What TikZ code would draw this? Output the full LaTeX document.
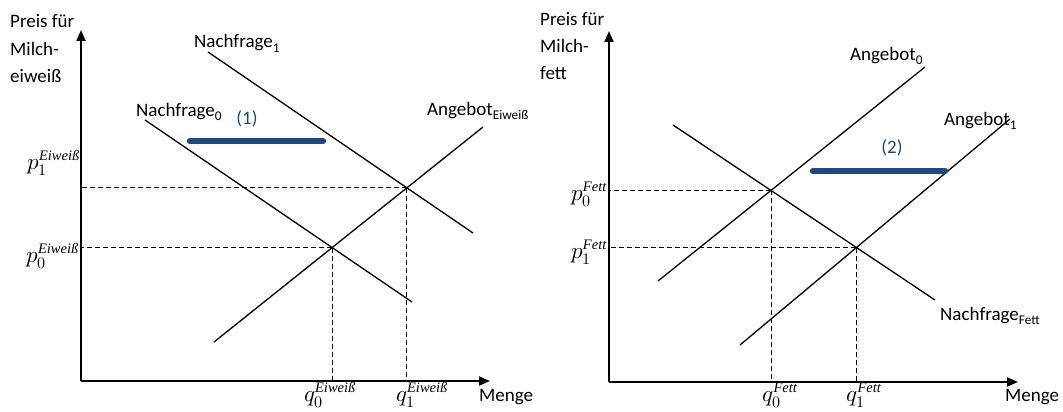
\documentclass[tikz,border=0pt]{standalone}
\usepackage{amsmath}
\usepackage{fontspec}
\usepackage{unicode-math}
\setmathfont{Latin Modern Math}
\setsansfont{Carlito}
\newfontfamily\supfont{Liberation Serif}
\usetikzlibrary{arrows.meta}
\definecolor{shiftblue}{RGB}{31,73,125}
\newcommand{\supword}[1]{\mbox{\supfont\fontsize{14.5}{17}\selectfont\itshape #1}}
\begin{document}
\begin{tikzpicture}[x=1pt,y=-1pt,
  lbl/.style={font=\sffamily\fontsize{19}{22}\selectfont, inner sep=0pt},
  mlbl/.style={font=\fontsize{23}{26}\selectfont, inner sep=0pt},
  curve/.style={line width=1.3pt},
  axis/.style={line width=2pt, -{Triangle[length=11pt,width=9pt]}},
  guide/.style={line width=0.9pt, dash pattern=on 5pt off 3pt},
  shiftarrow/.style={line width=6.5pt, draw=shiftblue, line cap=round},
  shiftlbl/.style={font=\sffamily\fontsize{19}{22}\selectfont, text=shiftblue, inner sep=0pt}
]
\useasboundingbox (0,0) rectangle (1063,412);

% ================= LEFT CHART =================
\coordinate (oL) at (81,381);
\coordinate (yL) at (81,30);
\coordinate (xL) at (490,381);
\draw[axis] (oL) -- (yL);
\draw[axis] (oL) -- (xL);

\node[lbl, anchor=base west] (tL1) at (10,28) {Preis für};
\node[lbl, anchor=base west] (tL2) at (10,56) {Milch-};
\node[lbl, anchor=base west] (tL3) at (10,83) {eiweiß};
\node[lbl, anchor=base west] (mL) at (479,401) {Menge};

% curves
\coordinate (n1a) at (208,52);
\coordinate (n1b) at (473,233);
\coordinate (n0a) at (145,120);
\coordinate (n0b) at (412,302);
\coordinate (saL) at (214,342);
\coordinate (sbL) at (483,127);
\draw[curve] (n1a) -- (n1b);
\draw[curve] (n0a) -- (n0b);
\draw[curve] (saL) -- (sbL);

\coordinate (E0) at (intersection of n0a--n0b and saL--sbL);
\coordinate (E1) at (intersection of n1a--n1b and saL--sbL);
\draw[guide] (E1) -- (E1 -| oL);
\draw[guide] (E1) -- (E1 |- oL);
\draw[guide] (E0) -- (E0 -| oL);
\draw[guide] (E0) -- (E0 |- oL);

\node[lbl, anchor=base west] (ln1) at (194,48) {Nachfrage\textsubscript{1}};
\node[lbl, anchor=base west] (ln0) at (136,116) {Nachfrage\textsubscript{0}};
\node[lbl, anchor=base west] (lsL) at (427,115) {Angebot\textsubscript{Eiweiß}};

\coordinate (b1a) at (190,141);
\coordinate (b1b) at (323,141);
\draw[shiftarrow] (b1a) -- (b1b);
\node[shiftlbl, anchor=base] (l1) at (247,124) {(1)};

\node[mlbl, anchor=base east] (p1L) at (80,169) {$p_1^{\supword{Eiweiß}}$};
\node[mlbl, anchor=base east] (p0L) at (79,262) {$p_0^{\supword{Eiweiß}}$};
\node[mlbl, anchor=base] (q0L) at (330,401) {$q_0^{\supword{Eiweiß}}$};
\node[mlbl, anchor=base] (q1L) at (422,401) {$q_1^{\supword{Eiweiß}}$};

% ================= RIGHT CHART =================
\coordinate (oR) at (609,382);
\coordinate (yR) at (609,31);
\coordinate (xR) at (1018,382);
\draw[axis] (oR) -- (yR);
\draw[axis] (oR) -- (xR);

\node[lbl, anchor=base west] (tR1) at (540,26) {Preis für};
\node[lbl, anchor=base west] (tR2) at (540,53) {Milch-};
\node[lbl, anchor=base west] (tR3) at (540,80) {fett};
\node[lbl, anchor=base west] (mR) at (1005,401) {Menge};

\coordinate (a0a) at (658,281);
\coordinate (a0b) at (925,67);
\coordinate (a1a) at (740,345);
\coordinate (a1b) at (1010,119);
\coordinate (nfa) at (673,125);
\coordinate (nfb) at (935,300);
\draw[curve] (a0a) -- (a0b);
\draw[curve] (a1a) -- (a1b);
\draw[curve] (nfa) -- (nfb);

\coordinate (F0) at (intersection of nfa--nfb and a0a--a0b);
\coordinate (F1) at (intersection of nfa--nfb and a1a--a1b);
\draw[guide] (F0) -- (F0 -| oR);
\draw[guide] (F0) -- (F0 |- oR);
\draw[guide] (F1) -- (F1 -| oR);
\draw[guide] (F1) -- (F1 |- oR);

\node[lbl, anchor=base west] (la0) at (850,60) {Angebot\textsubscript{0}};
\node[lbl, anchor=base west] (la1) at (944,125) {Angebot\textsubscript{1}};
\node[lbl, anchor=base west] (lnf) at (940,320) {Nachfrage\textsubscript{Fett}};

\coordinate (b2a) at (813,171);
\coordinate (b2b) at (945,171);
\draw[shiftarrow] (b2a) -- (b2b);
\node[shiftlbl, anchor=base] (l2) at (892,153) {(2)};

\node[mlbl, anchor=base east] (p0R) at (607,200) {$p_0^{\supword{Fett}}$};
\node[mlbl, anchor=base east] (p1R) at (607,258) {$p_1^{\supword{Fett}}$};
\node[mlbl, anchor=base] (q0R) at (780,401) {$q_0^{\supword{Fett}}$};
\node[mlbl, anchor=base] (q1R) at (864,401) {$q_1^{\supword{Fett}}$};
\end{tikzpicture}
\end{document}
